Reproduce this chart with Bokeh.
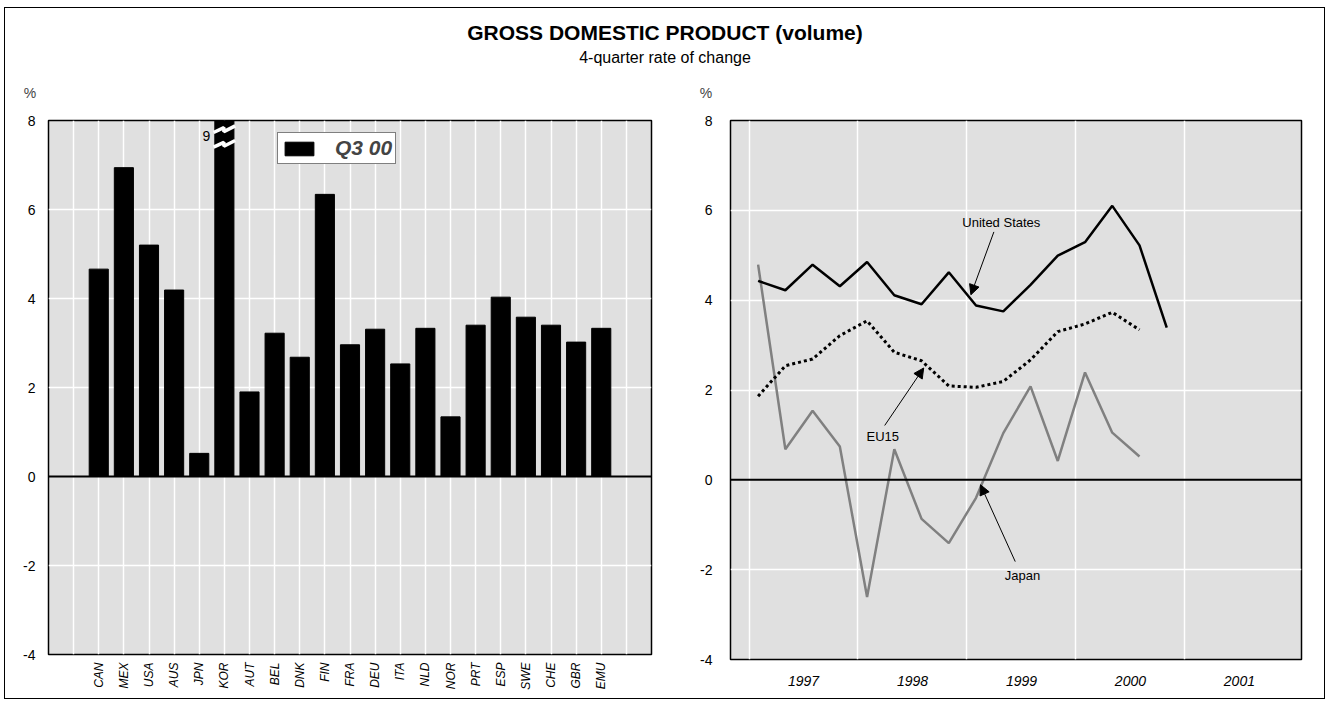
import math
from bokeh.plotting import figure
from bokeh.layouts import column, row
from bokeh.models import (Range1d, FixedTicker, Span, Label, ColumnDataSource,
                          Arrow, NormalHead, Legend, LegendItem)
from bokeh.core.properties import value
from bokeh.embed import file_html
from bokeh.resources import INLINE

FONT = "Liberation Sans Narrow, Liberation Sans, Arial Narrow, sans-serif"
BG = "#e0e0e0"

# ---------------- data ----------------
countries = ["CAN", "MEX", "USA", "AUS", "JPN", "KOR", "AUT", "BEL", "DNK", "FIN", "FRA",
             "DEU", "ITA", "NLD", "NOR", "PRT", "ESP", "SWE", "CHE", "GBR", "EMU"]
gdp_q3_00 = [4.66, 6.94, 5.20, 4.19, 0.52, 9.0, 1.90, 3.22, 2.68, 6.34, 2.96,
             3.31, 2.53, 3.33, 1.34, 3.40, 4.03, 3.58, 3.40, 3.02, 3.33]
legend_label = "Q3 00"
broken_country = "KOR"

years = [1997] * 4 + [1998] * 4 + [1999] * 4 + [2000] * 4
quarters = [1, 2, 3, 4] * 4
united_states = [4.43, 4.22, 4.79, 4.31, 4.85, 4.11, 3.91, 4.62, 3.88, 3.75, 4.34, 4.99, 5.29, 6.10, 5.22, 3.39]
eu15 = [1.86, 2.54, 2.69, 3.21, 3.54, 2.84, 2.65, 2.09, 2.06, 2.19, 2.67, 3.30, 3.47, 3.73, 3.34]
japan = [4.79, 0.68, 1.54, 0.74, -2.61, 0.68, -0.87, -1.41, -0.40, 1.04, 2.08, 0.42, 2.39, 1.05, 0.52]
year_labels = ["1997", "1998", "1999", "2000", "2001"]
y_ticks = [-4, -2, 0, 2, 4, 6, 8]

title_text = "GROSS DOMESTIC PRODUCT (volume)"
subtitle_text = "4-quarter rate of change"

# ---------------- header ----------------
W_TOTAL = 1319
H_HEAD = 92
p0 = figure(width=W_TOTAL, height=H_HEAD, x_range=Range1d(0, W_TOTAL), y_range=Range1d(0, H_HEAD),
            x_axis_type=None, y_axis_type=None, min_border=0, toolbar_location=None,
            output_backend="svg")
p0.outline_line_color = None
p0.add_layout(Label(x=659.5, y=68.5, text=title_text, text_align="center",
                    text_baseline="middle", text_font=FONT, text_font_size="21px",
                    text_font_style="bold", text_color="black"))
p0.add_layout(Label(x=659.5, y=43.5, text=subtitle_text, text_align="center",
                    text_baseline="middle", text_font=FONT, text_font_size="16px",
                    text_color="black"))
p0.add_layout(Label(x=24.5, y=7.5, text="%", text_align="center", text_baseline="middle",
                    text_font=FONT, text_font_size="14px"))
p0.add_layout(Label(x=700.5, y=7.5, text="%", text_align="center", text_baseline="middle",
                    text_font=FONT, text_font_size="14px"))


def style_y(p, standoff):
    p.yaxis.ticker = FixedTicker(ticks=y_ticks)
    p.yaxis.major_label_overrides = {t: str(t) for t in y_ticks}
    p.yaxis.major_label_text_font = FONT
    p.yaxis.major_label_text_font_size = "14px"
    p.yaxis.major_label_text_color = "black"
    p.yaxis.major_label_standoff = standoff
    p.yaxis.major_tick_line_color = None
    p.yaxis.minor_tick_line_color = None
    p.yaxis.major_tick_out = 0
    p.yaxis.major_tick_in = 0
    p.yaxis.minor_tick_out = 0
    p.yaxis.axis_line_color = None
    p.ygrid.ticker = FixedTicker(ticks=[t for t in y_ticks if t not in (0, -4, 8)])
    p.ygrid.grid_line_color = "white"
    p.ygrid.grid_line_width = 1.5
    p.xgrid.grid_line_color = "white"
    p.xgrid.grid_line_width = 1.5
    p.background_fill_color = BG
    p.outline_line_color = "black"
    p.outline_line_width = 1.5
    p.add_layout(Span(location=0, dimension="width", line_color="black", line_width=2))


def style_x(p, standoff, size):
    p.xaxis.major_label_text_font = FONT
    p.xaxis.major_label_text_font_size = size
    p.xaxis.major_label_text_font_style = "italic"
    p.xaxis.major_label_text_color = "black"
    p.xaxis.major_label_standoff = standoff
    p.xaxis.major_tick_line_color = None
    p.xaxis.minor_tick_line_color = None
    p.xaxis.major_tick_out = 0
    p.xaxis.major_tick_in = 0
    p.xaxis.minor_tick_out = 0
    p.xaxis.axis_line_color = None


# ---------------- left: bar chart ----------------
n = len(countries)
idx = list(range(n))
p1 = figure(width=675, height=593, x_range=Range1d(-2, n + 1), y_range=Range1d(-4, 8),
            min_border_left=43, min_border_right=29, min_border_top=20, min_border_bottom=39,
            toolbar_location=None, output_backend="svg")
style_y(p1, 13)
p1.xgrid.ticker = FixedTicker(ticks=list(range(-1, n + 1)))
p1.xaxis.ticker = FixedTicker(ticks=idx)
p1.xaxis.major_label_overrides = {i: c for i, c in zip(idx, countries)}
p1.xaxis.major_label_orientation = math.pi / 2
style_x(p1, 8, "12px")

src = ColumnDataSource(dict(x=idx, top=gdp_q3_00))
bars = p1.vbar(x="x", top="top", bottom=0, width=0.76, source=src,
               fill_color="black", line_color="black")

# break marker on the off-scale bar
k = countries.index(broken_country)
hw = 0.38
zig = []
for yb in (7.80, 7.47):
    zig.append(([k - hw - 0.05, k - 0.02, k - 0.02, k + hw + 0.05],
                [yb - 0.07, yb + 0.04, yb - 0.05, yb + 0.08]))
p1.multi_line(xs=[z[0] for z in zig], ys=[z[1] for z in zig], line_color="white",
              line_width=3.5)
p1.text(x=[k - 0.72], y=[7.66], text=[f"{gdp_q3_00[k]:g}"], text_align="center",
        text_baseline="middle", text_font=value(FONT), text_font_size="14px",
        text_color="black")

leg = Legend(items=[LegendItem(label=legend_label, renderers=[bars])],
             location=(229, 490), margin=0, padding=3, glyph_width=36, glyph_height=17,
             label_standoff=18, label_height=17, label_text_font=FONT,
             label_text_font_size="21px", label_text_font_style="bold italic",
             border_line_color="black", border_line_width=1.5,
             background_fill_color="white", background_fill_alpha=1)
p1.add_layout(leg)

# ---------------- right: line chart ----------------
xq = [y + (3 * (q - 1) + 1) / 12 for y, q in zip(years, quarters)]
p2 = figure(width=644, height=598, x_range=Range1d(1996.83, 2002.07), y_range=Range1d(-4, 8),
            min_border_left=50, min_border_right=23, min_border_top=20, min_border_bottom=39,
            toolbar_location=None, output_backend="svg")
style_y(p2, 18)
yrs = [int(s) for s in year_labels]
p2.xgrid.ticker = FixedTicker(ticks=yrs)
p2.xaxis.ticker = FixedTicker(ticks=[y + 0.5 for y in yrs])
p2.xaxis.major_label_overrides = {y + 0.5: s for y, s in zip(yrs, year_labels)}
style_x(p2, 16, "14px")

p2.line(xq[:len(japan)], japan, line_color="#808080", line_width=2.5)
p2.line(xq[:len(eu15)], eu15, line_color="black", line_width=3, line_dash="3 3")
p2.line(xq[:len(united_states)], united_states, line_color="black", line_width=2.5)

annots = [
    ("United States", 1999.315, 5.72, 1999.247, 5.52, 1999.036, 4.12),
    ("EU15", 1998.227, 0.96, 1998.245, 1.21, 1998.603, 2.49),
    ("Japan", 1999.51, -2.14, 1999.443, -1.82, 1999.124, -0.11),
]
for txt, tx, ty, x0, y0, x1, y1 in annots:
    p2.add_layout(Label(x=tx, y=ty, text=txt, text_align="center", text_baseline="middle",
                        text_font=FONT, text_font_size="13px", text_color="black"))
    p2.add_layout(Arrow(end=NormalHead(size=10, fill_color="black", line_color="black"),
                        x_start=x0, y_start=y0, x_end=x1, y_end=y1,
                        line_color="black", line_width=1))

layout = column(p0, row(p1, p2),
                styles={"border": "1.5px solid black", "margin-left": "4px", "margin-top": "7px"})
open("out.html", "w").write(file_html(layout, INLINE))
